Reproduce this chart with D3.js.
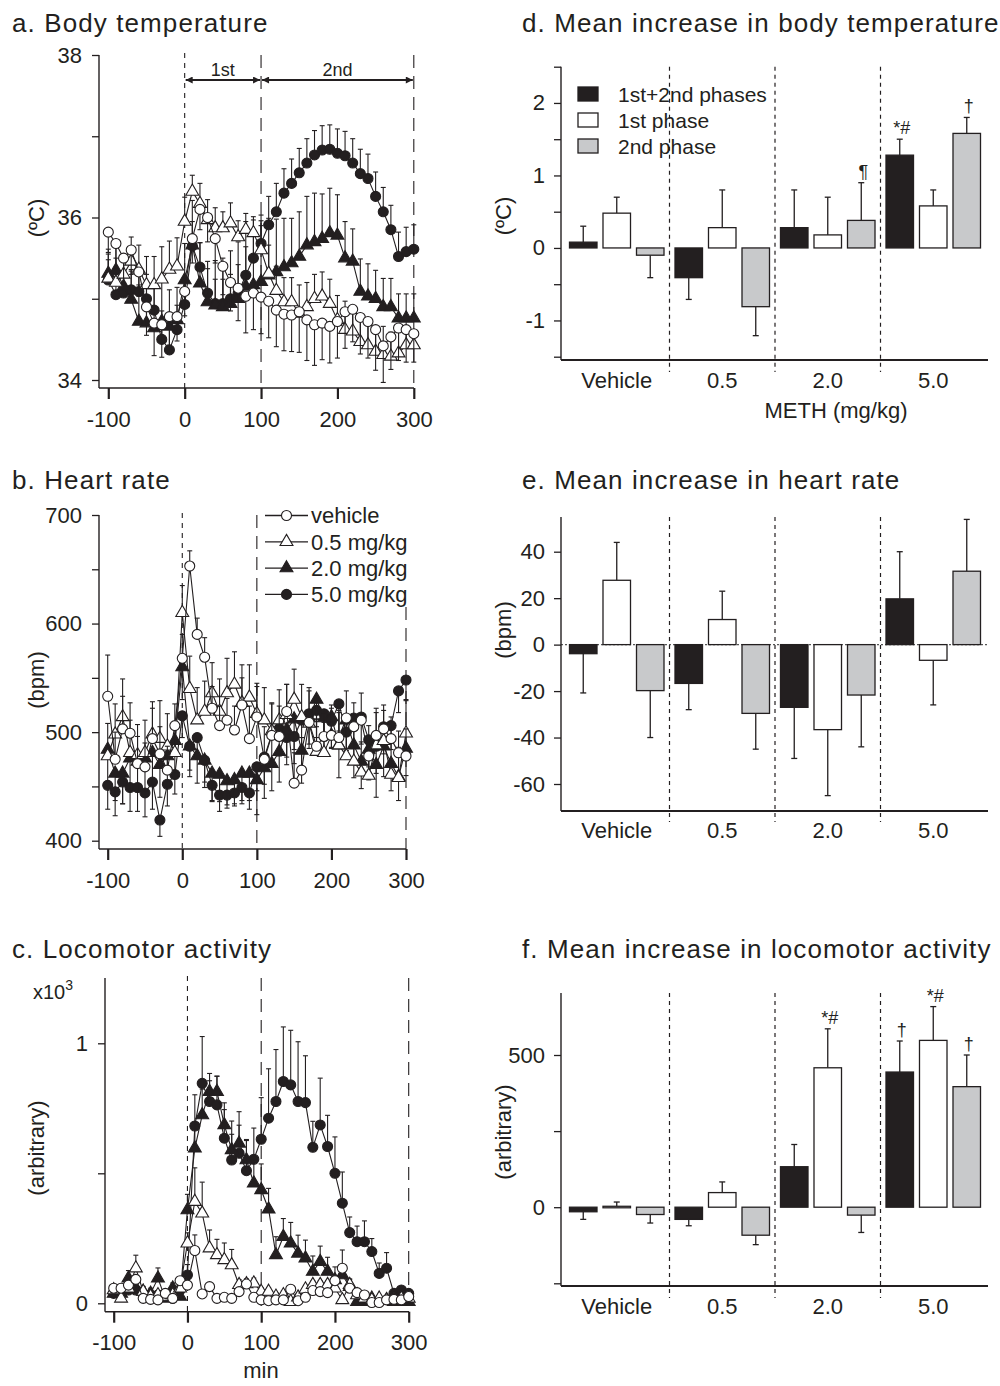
<!DOCTYPE html>
<html><head><meta charset="utf-8">
<script src="https://cdn.jsdelivr.net/npm/d3@7"></script>
<style>
body{margin:0;background:#fff}
svg text{font-family:"Liberation Sans",Arial,Helvetica,sans-serif;fill:#231f20}
</style>
</head><body>
<svg id="chart" width="1000" height="1386"></svg>
<script>
// ---------------- DATA ----------------
const minutes = [-100,-90,-80,-70,-60,-50,-40,-30,-20,-10,0,10,20,30,40,50,60,70,80,90,100,110,120,130,140,150,160,170,180,190,200,210,220,230,240,250,260,270,280,290,300];
const doseNames = ["vehicle","0.5 mg/kg","2.0 mg/kg","5.0 mg/kg"];
const timeTicks = [-100,0,100,200,300];

// a. Body temperature (ºC)
const tempVehicle = [35.82,35.68,35.5,35.6,35.33,34.9,34.7,34.68,34.78,34.78,35.09,35.74,36.1,36.0,35.74,35.4,35.2,35.13,35.03,35.07,35.02,34.97,34.86,34.81,34.8,34.84,34.74,34.68,34.7,34.66,34.72,34.84,34.87,34.77,34.72,34.62,34.42,34.53,34.64,34.62,34.57];
const tempDose05 = [35.25,35.2,35.3,35.46,35.36,35.17,35.17,35.24,35.36,35.4,35.95,36.32,36.17,35.97,35.87,35.87,35.93,35.76,35.85,35.81,35.6,35.31,35.1,34.96,34.96,34.82,34.9,35.0,35.03,34.94,34.74,34.62,34.6,34.47,34.43,34.35,34.31,34.29,34.33,34.43,34.43];
const tempDose20 = [35.31,35.35,35.15,34.99,34.72,34.7,34.64,34.72,34.66,34.74,35.23,35.66,35.19,34.96,34.92,34.9,34.94,35.0,35.15,35.17,35.21,35.29,35.33,35.39,35.44,35.52,35.66,35.7,35.74,35.81,35.78,35.5,35.46,35.09,35.03,35.0,34.9,34.9,34.76,34.76,34.76];
const tempDose50 = [35.23,35.05,35.07,35.11,35.09,35.0,34.86,34.5,34.37,34.62,34.93,35.65,35.39,35.07,34.94,34.94,35.0,35.07,35.29,35.5,35.68,35.91,36.07,36.3,36.42,36.55,36.67,36.77,36.83,36.84,36.79,36.76,36.67,36.54,36.48,36.26,36.07,35.85,35.52,35.58,35.61];
const tempVehicleSem = [0.25,0.3,0.3,0.3,0.3,0.35,0.4,0.4,0.35,0.3,0.3,0.3,0.25,0.3,0.3,0.35,0.35,0.4,0.45,0.45,0.45,0.45,0.45,0.45,0.45,0.5,0.5,0.5,0.45,0.45,0.45,0.45,0.4,0.45,0.45,0.5,0.45,0.4,0.4,0.4,0.35];
const tempDose05Sem = [0.3,0.3,0.25,0.3,0.3,0.35,0.35,0.4,0.35,0.35,0.3,0.2,0.25,0.25,0.25,0.2,0.25,0.2,0.2,0.2,0.3,0.35,0.3,0.3,0.3,0.35,0.3,0.3,0.3,0.3,0.3,0.35,0.3,0.3,0.3,0.3,0.35,0.3,0.3,0.3,0.3];
const tempDose20Sem = [0.3,0.35,0.35,0.35,0.45,0.5,0.5,0.5,0.45,0.4,0.45,0.55,0.5,0.5,0.55,0.6,0.65,0.7,0.8,0.8,0.75,0.7,0.65,0.6,0.55,0.55,0.6,0.6,0.55,0.55,0.5,0.45,0.4,0.4,0.4,0.35,0.35,0.35,0.3,0.3,0.3];
const tempDose50Sem = [0.25,0.25,0.25,0.25,0.25,0.3,0.3,0.35,0.35,0.3,0.3,0.3,0.3,0.3,0.3,0.3,0.3,0.35,0.35,0.35,0.35,0.35,0.35,0.3,0.3,0.3,0.3,0.3,0.3,0.3,0.3,0.3,0.3,0.3,0.3,0.3,0.3,0.3,0.3,0.3,0.3];
const tempSemDir = [-1,1,1,1];

// b. Heart rate (bpm)
const hrVehicle = [533,475,503,499,471,468,494,480,465,506,568,653,590,569,522,506,511,502,525,494,514,475,497,496,519,453,465,509,487,496,497,495,513,505,511,478,497,503,494,481,478];
const hrDose05 = [478,498,514,481,479,481,498,494,487,481,610,540,511,519,536,519,536,544,527,532,517,511,501,511,516,530,514,508,482,481,497,488,478,473,463,460,488,492,461,458,499];
const hrDose20 = [484,462,462,476,473,476,481,470,478,492,560,487,478,474,462,461,455,456,462,462,456,467,471,482,502,512,483,513,530,513,514,488,511,488,473,484,470,487,471,459,485];
const hrDose50 = [451,445,454,449,449,444,454,419,452,461,515,487,495,474,451,442,442,444,449,444,468,477,498,503,495,496,511,517,520,517,510,526,500,513,514,493,487,505,506,538,548];
const hrVehicleSem = [38,25,30,28,25,22,28,25,22,20,22,14,15,18,20,18,20,22,25,30,28,30,30,28,25,28,30,32,25,22,25,25,25,22,25,28,25,22,20,20,25];
const hrDose05Sem = [30,28,35,30,28,30,30,35,30,28,25,30,30,28,28,30,32,30,35,30,28,30,25,28,28,28,30,30,30,28,28,30,30,30,28,28,30,28,30,28,30];
const hrDose20Sem = [30,25,28,30,28,30,30,30,28,30,30,28,25,25,25,25,22,22,25,25,32,28,25,28,25,28,30,28,25,28,28,30,28,30,25,28,30,28,25,22,25];
const hrDose50Sem = [22,22,20,22,22,22,25,15,20,18,20,22,20,20,15,15,12,12,15,15,22,25,25,25,25,25,28,28,25,25,25,25,25,25,25,25,25,25,22,20,18];
const hrSemDir = [1,1,-1,-1];

// c. Locomotor activity (arbitrary)
const actVehicle = [58,58,70,92,19,15,13,38,19,87,70,203,36,64,19,23,19,45,74,23,13,10,13,13,54,10,23,49,45,41,87,135,58,41,32,3,3,13,15,13,26];
const actDose05 = [51,19,58,135,45,26,32,26,32,58,231,391,346,212,186,167,147,71,74,77,45,45,26,32,6,23,54,71,71,71,58,13,71,32,19,13,19,13,13,19,19];
const actDose20 = [38,38,96,58,45,38,96,19,58,26,359,596,724,814,814,686,590,615,551,462,436,362,186,256,231,192,173,122,160,122,90,109,64,6,6,19,13,13,6,6,6];
const actDose50 = [38,38,51,51,38,26,32,32,19,51,109,682,846,776,763,635,551,577,510,554,631,712,776,853,840,776,772,600,686,603,500,385,272,237,237,199,115,135,38,51,38];
const actVehicleSem = [15,15,15,15,10,10,10,10,10,15,15,60,10,15,10,10,10,10,15,10,10,10,10,10,15,10,10,10,10,10,15,70,15,10,10,10,10,10,10,10,10];
const actDose05Sem = [20,20,20,50,15,15,15,15,15,20,40,130,120,70,60,65,60,20,20,20,15,15,15,15,15,15,15,15,15,15,15,15,20,15,10,10,10,10,10,10,10];
const actDose20Sem = [20,20,30,30,20,20,40,15,20,15,60,100,100,70,60,85,60,70,75,90,100,80,70,70,80,70,70,60,60,55,50,40,30,10,10,10,10,10,10,10,10];
const actDose50Sem = [20,20,20,20,20,15,15,15,15,20,40,120,180,80,110,110,150,160,120,120,160,190,200,210,210,230,180,100,180,120,140,120,60,60,80,50,40,60,10,10,10];
const actSemDir = [1,1,1,1];

// d-f. bar charts
const groups = ["Vehicle","0.5","2.0","5.0"];
const phases = ["1st+2nd phases","1st phase","2nd phase"];

const tempBoth = [0.08,-0.41,0.28,1.28];
const tempBothSem = [0.22,0.30,0.52,0.22];
const temp1st = [0.48,0.28,0.18,0.58];
const temp1stSem = [0.22,0.52,0.52,0.22];
const temp2nd = [-0.1,-0.81,0.38,1.58];
const temp2ndSem = [0.31,0.40,0.52,0.22];

const hrBoth = [-3.9,-16.7,-27,19.7];
const hrBothSem = [16.9,11.3,22,20.3];
const hr1st = [27.7,10.8,-36.6,-6.75];
const hr1stSem = [16.3,12.2,28.4,19.2];
const hr2nd = [-19.8,-29.6,-21.7,31.6];
const hr2ndSem = [20.2,15.4,22.3,22.3];

const actBoth = [-15,-40,133,444];
const actBothSem = [25,21,73,102];
const act1st = [3,48,458,548];
const act1stSem = [14,35,128,111];
const act2nd = [-24,-92,-26,396];
const act2ndSem = [28,31,57,104];

const tempMarks = [["2.0","2nd phase","¶"],["5.0","1st+2nd phases","*#"],["5.0","2nd phase","†"]];
const actMarks = [["2.0","1st phase","*#"],["5.0","1st+2nd phases","†"],["5.0","1st phase","*#"],["5.0","2nd phase","†"]];

// ---------------- DRAWING ----------------
const INK = "#231f20";
const phaseFill = ["#231f20","#ffffff","#c8c9cb"];
const svg = d3.select("#chart");
svg.append("rect").attr("width",1000).attr("height",1386).attr("fill","#fff");

function title(x,y,t){
  svg.append("text").attr("x",x).attr("y",y).attr("font-size",26)
    .attr("letter-spacing","1.1px").text(t);
}
function yTitle(x,y,t){
  svg.append("text").attr("transform",`translate(${x},${y}) rotate(-90)`)
    .attr("text-anchor","middle").attr("dy","0.35em").attr("font-size",22).text(t);
}
function styleAxis(g){
  g.select(".domain").remove();
  g.selectAll("line").attr("stroke",INK).attr("stroke-width",1.3);
  g.selectAll("text").attr("font-size",22).attr("fill",INK)
    .attr("font-family",'"Liberation Sans",Arial,sans-serif');
}

const markerSpec = [
  {shape:"circle", fill:"#fff"},
  {shape:"triangle", fill:"#fff"},
  {shape:"triangle", fill:INK},
  {shape:"circle", fill:INK}
];
function drawMarker(sel, i){
  const s = markerSpec[i];
  if (s.shape === "circle") {
    sel.append("circle").attr("r",5).attr("fill",s.fill).attr("stroke",INK).attr("stroke-width",1.1);
  } else {
    sel.append("path").attr("d",d3.symbol(d3.symbolTriangle,72)()).attr("fill",s.fill)
      .attr("stroke",INK).attr("stroke-width",1.1);
  }
}

function timePanel(cfg){
  const x = d3.scaleLinear().domain([-100,300]).range(cfg.xRange);
  const y = d3.scaleLinear().domain(cfg.yDomain).range(cfg.yRange);
  const g = svg.append("g");
  // reference lines
  g.append("line").attr("x1",x(0)).attr("x2",x(0)).attr("y1",cfg.axisTop-2).attr("y2",cfg.axisY)
    .attr("stroke",INK).attr("stroke-width",1.1).attr("stroke-dasharray","5,5");
  g.append("line").attr("x1",x(100)).attr("x2",x(100)).attr("y1",cfg.axisTop).attr("y2",cfg.axisY)
    .attr("stroke",INK).attr("stroke-width",1.1).attr("stroke-dasharray","13,8");
  g.append("line").attr("x1",x(300)).attr("x2",x(300)).attr("y1",cfg.dash300Top).attr("y2",cfg.axisY)
    .attr("stroke",INK).attr("stroke-width",1.1).attr("stroke-dasharray","13,8");
  // axes
  const ya = d3.axisLeft(y).tickValues(cfg.yTicks).tickSize(7).tickPadding(10)
    .tickFormat(d => cfg.yLabels.includes(d) ? cfg.yFmt(d) : "");
  g.append("g").attr("transform",`translate(${cfg.axisX},0)`).call(ya).call(styleAxis);
  const xa = d3.axisBottom(x).tickValues(timeTicks).tickSize(11).tickPadding(12).tickFormat(d => String(d));
  const xg = g.append("g").attr("transform",`translate(0,${cfg.axisY})`).call(xa).call(styleAxis);
  xg.selectAll("line").attr("stroke-width",2.2);
  g.append("line").attr("x1",cfg.axisX).attr("x2",cfg.axisX).attr("y1",cfg.axisTop).attr("y2",cfg.axisY)
    .attr("stroke",INK).attr("stroke-width",1.4);
  g.append("line").attr("x1",cfg.axisX).attr("x2",cfg.xEnd).attr("y1",cfg.axisY).attr("y2",cfg.axisY)
    .attr("stroke",INK).attr("stroke-width",1.4);
  // series (vehicle drawn last, on top)
  const line = d3.line().x((d,k)=>x(minutes[k])).y(d=>y(d));
  [3,2,1,0].forEach(i => {
    const vals = cfg.series[i], sem = cfg.sems[i], dir = cfg.dirs[i];
    const sg = g.append("g");
    vals.forEach((v,k) => {
      const xx = x(minutes[k]), y0 = y(v), y1 = y(v + dir*sem[k]);
      sg.append("line").attr("x1",xx).attr("x2",xx).attr("y1",y0).attr("y2",y1).attr("stroke",INK).attr("stroke-width",1.1);
      sg.append("line").attr("x1",xx-2.5).attr("x2",xx+2.5).attr("y1",y1).attr("y2",y1).attr("stroke",INK).attr("stroke-width",1.1);
    });
    sg.append("path").attr("d",line(vals)).attr("fill","none").attr("stroke",INK).attr("stroke-width",1.1);
    vals.forEach((v,k) => {
      const m = sg.append("g").attr("transform",`translate(${x(minutes[k])},${y(v)})`);
      drawMarker(m,i);
    });
  });
  return {x,y,g};
}

// ---- panel a
title(12,32,"a. Body temperature");
const pa = timePanel({xRange:[108.3,413.8], yDomain:[34,38], yRange:[380,55], axisX:99, axisTop:55, axisY:388, xEnd:414,
  dash300Top:55, yTicks:[34,35,36,37,38], yLabels:[34,36,38], yFmt:d=>String(d),
  series:[tempVehicle,tempDose05,tempDose20,tempDose50], sems:[tempVehicleSem,tempDose05Sem,tempDose20Sem,tempDose50Sem], dirs:tempSemDir});
yTitle(36,218,"(ºC)");
// phase arrows
const defs = svg.append("defs");
defs.append("marker").attr("id","ah").attr("viewBox","0 0 10 10").attr("refX",10).attr("refY",5)
  .attr("markerWidth",9).attr("markerHeight",7).attr("markerUnits","userSpaceOnUse").attr("orient","auto-start-reverse")
  .append("path").attr("d","M0,0L10,5L0,10z").attr("fill",INK);
[[0,100,"1st"],[100,300,"2nd"]].forEach(([a,b,t]) => {
  svg.append("line").attr("x1",pa.x(a)+1).attr("x2",pa.x(b)-1).attr("y1",80).attr("y2",80)
    .attr("stroke",INK).attr("stroke-width",2)
    .attr("marker-start","url(#ah)").attr("marker-end","url(#ah)");
  svg.append("text").attr("x",(pa.x(a)+pa.x(b))/2).attr("y",76).attr("text-anchor","middle").attr("font-size",18).text(t);
});

// ---- panel b
title(12,489,"b. Heart rate");
timePanel({xRange:[107.7,406], yDomain:[400,700], yRange:[840.7,515], axisX:99, axisTop:515, axisY:849, xEnd:406,
  dash300Top:607, yTicks:[400,450,500,550,600,650,700], yLabels:[400,500,600,700], yFmt:d=>String(d),
  series:[hrVehicle,hrDose05,hrDose20,hrDose50], sems:[hrVehicleSem,hrDose05Sem,hrDose20Sem,hrDose50Sem], dirs:hrSemDir});
yTitle(36,680,"(bpm)");
// legend
doseNames.forEach((n,i) => {
  const yy = 515.5 + i*26.3;
  svg.append("line").attr("x1",265).attr("x2",308).attr("y1",yy).attr("y2",yy).attr("stroke",INK).attr("stroke-width",1.3);
  drawMarker(svg.append("g").attr("transform",`translate(286.5,${yy})`), i);
  svg.append("text").attr("x",311).attr("y",yy).attr("dy","0.36em").attr("font-size",22).text(n);
});

// ---- panel c
title(12,958,"c. Locomotor activity");
timePanel({xRange:[113.7,408.7], yDomain:[0,1000], yRange:[1303.3,1043.3], axisX:105, axisTop:978, axisY:1311.7, xEnd:409,
  dash300Top:978, yTicks:[0,500,1000], yLabels:[0,1000], yFmt:d=>String(d/1000),
  series:[actVehicle,actDose05,actDose20,actDose50], sems:[actVehicleSem,actDose05Sem,actDose20Sem,actDose50Sem], dirs:actSemDir});
yTitle(36,1148,"(arbitrary)");
const xt = svg.append("text").attr("x",33).attr("y",999).attr("font-size",20);
xt.append("tspan").text("x10");
xt.append("tspan").attr("dy",-9).attr("font-size",14).text("3");
svg.append("text").attr("x",261).attr("y",1378).attr("text-anchor","middle").attr("font-size",22).text("min");

// ---------------- bar panels ----------------
function barPanel(cfg){
  const y = d3.scaleLinear().domain(cfg.yDomain).range(cfg.yRange);
  const xg = d3.scaleBand().domain(groups).range([564,986]);
  const xi = d3.scaleBand().domain(phases).range([0,xg.bandwidth()]).paddingInner(0.179).paddingOuter(0.164);
  const g = svg.append("g");
  // separators
  groups.slice(1).forEach(gr => {
    g.append("line").attr("x1",xg(gr)).attr("x2",xg(gr)).attr("y1",cfg.axisTop).attr("y2",cfg.sepBottom)
      .attr("stroke",INK).attr("stroke-width",1.2).attr("stroke-dasharray","4,4");
  });
  if (cfg.zeroLine) {
    g.append("line").attr("x1",561).attr("x2",988).attr("y1",y(0)).attr("y2",y(0))
      .attr("stroke","#555").attr("stroke-width",1.2).attr("stroke-dasharray","2,2");
  }
  // bars
  const tops = {};
  cfg.vals.forEach((arr,p) => {
    arr.forEach((v,j) => {
      const x0 = xg(groups[j]) + xi(phases[p]), w = xi.bandwidth();
      const yv = y(v), y0 = y(0);
      const s = v >= 0 ? 1 : -1;
      const ye = y(v + s*cfg.sems[p][j]);
      g.append("line").attr("x1",x0+w/2).attr("x2",x0+w/2).attr("y1",yv).attr("y2",ye).attr("stroke",INK).attr("stroke-width",1.3);
      g.append("line").attr("x1",x0+w/2-3).attr("x2",x0+w/2+3).attr("y1",ye).attr("y2",ye).attr("stroke",INK).attr("stroke-width",1.3);
      g.append("rect").attr("x",x0).attr("width",w).attr("y",Math.min(yv,y0)).attr("height",Math.max(1.5,Math.abs(yv-y0)))
        .attr("fill",phaseFill[p]).attr("stroke",INK).attr("stroke-width",1.3);
      tops[groups[j]+"|"+phases[p]] = {x:x0+w/2, y:ye};
    });
  });
  (cfg.marks||[]).forEach(([gr,ph,t]) => {
    const p = tops[gr+"|"+ph];
    g.append("text").attr("x",p.x+2).attr("y",p.y-5).attr("text-anchor","middle")
      .attr("font-family",'"Liberation Serif","Times New Roman",serif').attr("font-size",18).attr("fill",INK).text(t);
  });
  // axes
  const ya = d3.axisLeft(y).tickValues(cfg.yTicks).tickSize(7).tickPadding(9)
    .tickFormat(d => cfg.yLabels.includes(d) ? String(d) : "");
  g.append("g").attr("transform","translate(561,0)").call(ya).call(styleAxis);
  g.append("line").attr("x1",561).attr("x2",561).attr("y1",cfg.axisTop).attr("y2",cfg.axisY).attr("stroke",INK).attr("stroke-width",1.4);
  g.append("line").attr("x1",561).attr("x2",988).attr("y1",cfg.axisY).attr("y2",cfg.axisY).attr("stroke",INK).attr("stroke-width",2);
  groups.forEach(gr => {
    g.append("text").attr("x",xg(gr)+xg.bandwidth()/2).attr("y",cfg.catBaseline).attr("text-anchor","middle")
      .attr("font-size",22).text(gr);
  });
}

// ---- panel d
title(522,32,"d. Mean increase in body temperature");
barPanel({yDomain:[-1.5,2.5], yRange:[356.7,66.7], yTicks:[-1.5,-1,-0.5,0,0.5,1,1.5,2,2.5], yLabels:[-1,0,1,2],
  axisTop:66.7, axisY:360, sepBottom:372, catBaseline:388,
  vals:[tempBoth,temp1st,temp2nd], sems:[tempBothSem,temp1stSem,temp2ndSem], marks:tempMarks});
yTitle(503,216,"(ºC)");
phases.forEach((ph,p) => {
  const yy = 94 + p*26;
  svg.append("rect").attr("x",578).attr("y",yy-7).attr("width",20).attr("height",14)
    .attr("fill",phaseFill[p]).attr("stroke",INK).attr("stroke-width",1.3);
  svg.append("text").attr("x",618).attr("y",yy).attr("dy","0.36em").attr("font-size",21).text(ph);
});
svg.append("text").attr("x",836).attr("y",418).attr("text-anchor","middle").attr("font-size",22).text("METH (mg/kg)");

// ---- panel e
title(522,489,"e. Mean increase in heart rate");
barPanel({yDomain:[-60,40], yRange:[784,551.7], yTicks:[-60,-40,-20,0,20,40], yLabels:[-60,-40,-20,0,20,40],
  axisTop:517, axisY:811, sepBottom:822, catBaseline:838, zeroLine:true,
  vals:[hrBoth,hr1st,hr2nd], sems:[hrBothSem,hr1stSem,hr2ndSem]});
yTitle(503,630,"(bpm)");

// ---- panel f
title(522,958,"f. Mean increase in locomotor activity");
barPanel({yDomain:[-250,500], yRange:[1283.3,1055], yTicks:[-250,0,250,500], yLabels:[0,500],
  axisTop:993, axisY:1286, sepBottom:1298, catBaseline:1314,
  vals:[actBoth,act1st,act2nd], sems:[actBothSem,act1stSem,act2ndSem], marks:actMarks});
yTitle(503,1132,"(arbitrary)");
</script>
</body></html>
